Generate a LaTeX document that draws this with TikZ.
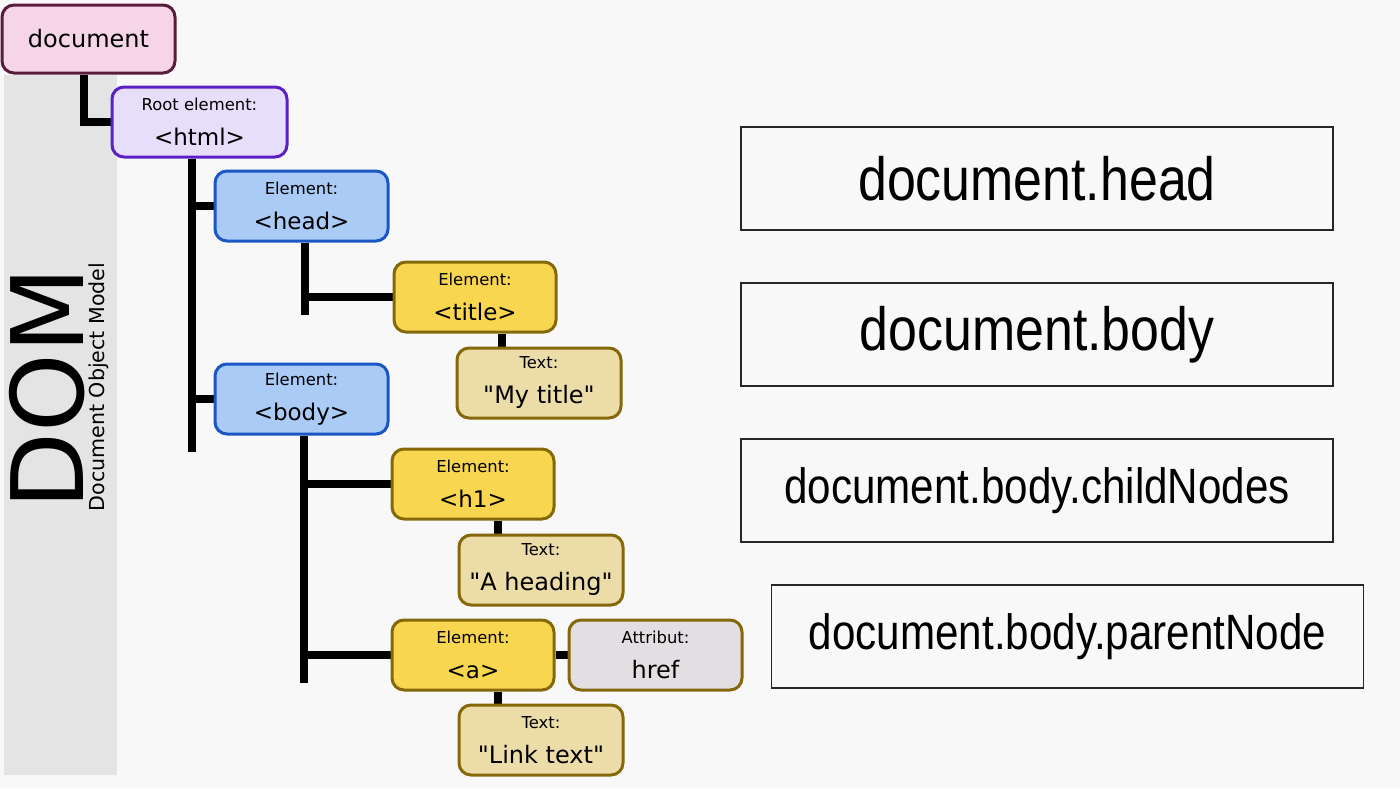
\documentclass[tikz,border=0pt]{standalone}
\usepackage{fontspec}
\setmainfont{DejaVu Sans}
\newfontfamily\propfont[FakeStretch=0.85]{Liberation Sans}
\usetikzlibrary{positioning,backgrounds}

\definecolor{paper}{HTML}{F8F8F8}
\definecolor{sidebar}{HTML}{E4E4E4}
\definecolor{docfill}{HTML}{F6D6E6}
\definecolor{docline}{HTML}{5A1C3C}
\definecolor{rootfill}{HTML}{E6DEFA}
\definecolor{rootline}{HTML}{5A20C6}
\definecolor{bluefill}{HTML}{A9CBF5}
\definecolor{blueline}{HTML}{1A56C4}
\definecolor{goldfill}{HTML}{F8D650}
\definecolor{goldline}{HTML}{85680A}
\definecolor{tanfill}{HTML}{EBDCA8}
\definecolor{attrfill}{HTML}{E2DEE2}

% small kind label above the tag
\newcommand{\kindline}[2]{{\fontsize{8.2}{10}\selectfont #1}\\[3.5pt]#2}
\newcommand{\quoted}[1]{\textquotedbl#1\textquotedbl}

\begin{document}
\begin{tikzpicture}[
    x=0.5pt, y=-0.5pt,
    box/.style={rectangle, rounded corners=6pt, line width=1.5pt, align=center,
                minimum height=35pt, inner sep=2pt, font=\fontsize{11.5}{14}\selectfont},
    docnode/.style={box, draw=docline, fill=docfill, minimum width=86.5pt,
                    minimum height=34pt, font=\fontsize{12}{14}\selectfont},
    rootnode/.style={box, draw=rootline, fill=rootfill, minimum width=87.5pt},
    elemblue/.style={box, draw=blueline, fill=bluefill, minimum width=86.5pt},
    elemgold/.style={box, draw=goldline, fill=goldfill, minimum width=81pt},
    textnode/.style={box, draw=goldline, fill=tanfill, minimum width=82pt,
                     font=\fontsize{12}{14}\selectfont},
    attrnode/.style={box, draw=goldline, fill=attrfill, minimum width=86.5pt,
                     font=\fontsize{12}{14}\selectfont},
    link/.style={line width=4pt},
    callout/.style={rectangle, draw=black!85, line width=0.8pt,
                    minimum width=296pt, minimum height=51.5pt},
    callbig/.style={callout, font=\propfont\fontsize{30.5}{32}\selectfont},
    callsmall/.style={callout, font=\propfont\fontsize{24.8}{26}\selectfont}
  ]
  \begin{scope}[on background layer]
    \fill[paper] (0,0) rectangle (1400,788);
    \fill[sidebar] (4,75) rectangle (117,775);
  \end{scope}
  \useasboundingbox (0,0) rectangle (1400,788);

  \node[rotate=90, font=\fontsize{50}{50}\selectfont] (dom) at (47,388) {DOM};
  \node[rotate=90, font=\fontsize{10.3}{12}\selectfont] (domsub) at (99,387) {Document Object Model};

  % tree
  \node[docnode] (doc) at (88.5,39) {document};
  \node[rootnode, below right=5.5pt and 55pt of doc.south west] (html) {\kindline{Root element:}{<html>}};
  \node[elemblue, below right=5.5pt and 51.5pt of html.south west] (head) {\kindline{Element:}{<head>}};
  \node[elemblue, below=60pt of head] (body) {\kindline{Element:}{<body>}};
  \node[elemgold, below right=9pt and 89.5pt of head.south west] (title) {\kindline{Element:}{<title>}};
  \node[textnode, below right=6.5pt and 31.5pt of title.south west] (mytitle) {\kindline{Text:}{\quoted{My title}}};
  \node[elemgold, below right=6pt and 88.5pt of body.south west] (h1) {\kindline{Element:}{<h1>}};
  \node[textnode, below right=6.5pt and 33.5pt of h1.south west] (heading) {\kindline{Text:}{\quoted{A heading}}};
  \node[elemgold, below=49pt of h1] (anchor) {\kindline{Element:}{<a>}};
  \node[attrnode, right=6pt of anchor] (href) {\kindline{Attribut:}{href}};
  \node[textnode, below right=6pt and 33.5pt of anchor.south west] (linktext) {\kindline{Text:}{\quoted{Link text}}};

  \coordinate (htmltail) at ([xshift=-3.75pt]html.south |- 0,452);
  \coordinate (headtail) at ([xshift=1.75pt]head.south |- 0,315);
  \coordinate (bodytail) at ([xshift=1pt]body.south |- 0,683);

  \begin{scope}[on background layer]
    \draw[link] ([xshift=-2.25pt]doc.south) |- (html.west);
    \draw[link] ([xshift=-3.75pt]html.south) -- (htmltail);
    \draw[link] ([xshift=-3.75pt]html.south) |- (head.west);
    \draw[link] ([xshift=-3.75pt]html.south) |- (body.west);
    \draw[link] ([xshift=1.75pt]head.south) -- (headtail);
    \draw[link] ([xshift=1.75pt]head.south) |- (title.west);
    \draw[link] ([xshift=-18.5pt]mytitle.north) -- ([xshift=-18.5pt]mytitle.north |- title.south);
    \draw[link] ([xshift=1pt]body.south) -- (bodytail);
    \draw[link] ([xshift=1pt]body.south) |- (h1.west);
    \draw[link] ([xshift=1pt]body.south) |- (anchor.west);
    \draw[link] ([xshift=-21.5pt]heading.north) -- ([xshift=-21.5pt]heading.north |- h1.south);
    \draw[link] (anchor) -- (href);
    \draw[link] ([xshift=-21.5pt]linktext.north) -- ([xshift=-21.5pt]linktext.north |- anchor.south);
  \end{scope}

  % properties
  \node[callbig] (headprop) at (1037,178.5) {document.head};
  \node[callbig, below=25.7pt of headprop] (bodyprop) {document.body};
  \node[callsmall, below=25.7pt of bodyprop] (childprop) {document.body.childNodes};
  \node[callsmall, below=20.7pt of childprop, xshift=15.25pt] (parentprop) {document.body.parentNode};
\end{tikzpicture}
\end{document}
